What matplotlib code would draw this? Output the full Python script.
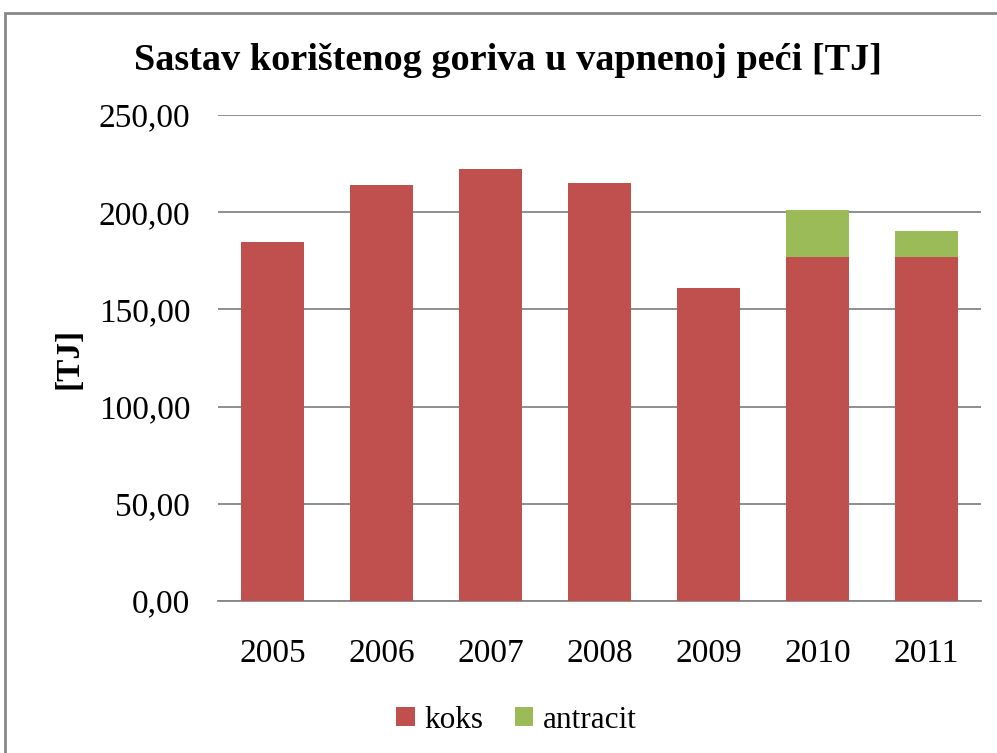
import matplotlib.pyplot as plt
import numpy as np
from matplotlib.patches import Rectangle

years = ['2005', '2006', '2007', '2008', '2009', '2010', '2011']
koks = [184.8, 213.8, 222.2, 214.8, 161.0, 177.1, 177.1]
antracit = [0, 0, 0, 0, 0, 24.2, 13.0]

plt.rcParams['font.family'] = ['Liberation Serif', 'DejaVu Serif']

fig = plt.figure(figsize=(9.97, 7.53), dpi=100)
ax = fig.add_axes([218 / 997, 1 - 601 / 753, (981 - 218) / 997, (601 - 115) / 753])

x = np.arange(len(years))
ax.bar(x, koks, width=0.57, color='#C0504D', label='koks', zorder=3)
ax.bar(x, antracit, width=0.57, bottom=koks, color='#9BBB59', label='antracit', zorder=3)

ax.set_xlim(-0.5, len(years) - 0.5)
ax.set_ylim(0, 250)
ax.set_yticks(np.arange(0, 251, 50))
ax.set_yticklabels([f'{v:.2f}'.replace('.', ',') for v in np.arange(0, 251, 50)])
ax.set_xticks(x)
ax.set_xticklabels(years)
ax.tick_params(axis='both', length=0, labelsize=24)
ax.tick_params(axis='y', pad=20)
ax.tick_params(axis='x', pad=27)
ax.grid(axis='y', color='#868686', linewidth=1.3, zorder=0)
for s in ['top', 'right', 'left']:
    ax.spines[s].set_visible(False)
ax.spines['bottom'].set_color('#868686')
ax.spines['bottom'].set_linewidth(1.3)

ax.set_ylabel('[TJ]', fontsize=24, fontweight='bold', labelpad=10)
fig.text(0.51, 1 - 61 / 753, 'Sastav korištenog goriva u vapnenoj peći [TJ]',
         ha='center', va='center', fontsize=27.5, fontweight='bold')

fig.legend(loc='center', bbox_to_anchor=(0.518, 1 - 720 / 753), ncol=2, frameon=False,
           fontsize=22.5, handlelength=0.6, handleheight=0.6, handletextpad=0.3, columnspacing=1.0)

fig.patches.append(Rectangle((5 / 997, -0.1), 1.2, 1 - 13 / 753 + 0.1, transform=fig.transFigure,
                             fill=False, edgecolor='#888888', linewidth=2))

fig.savefig('out.png', dpi=100)
